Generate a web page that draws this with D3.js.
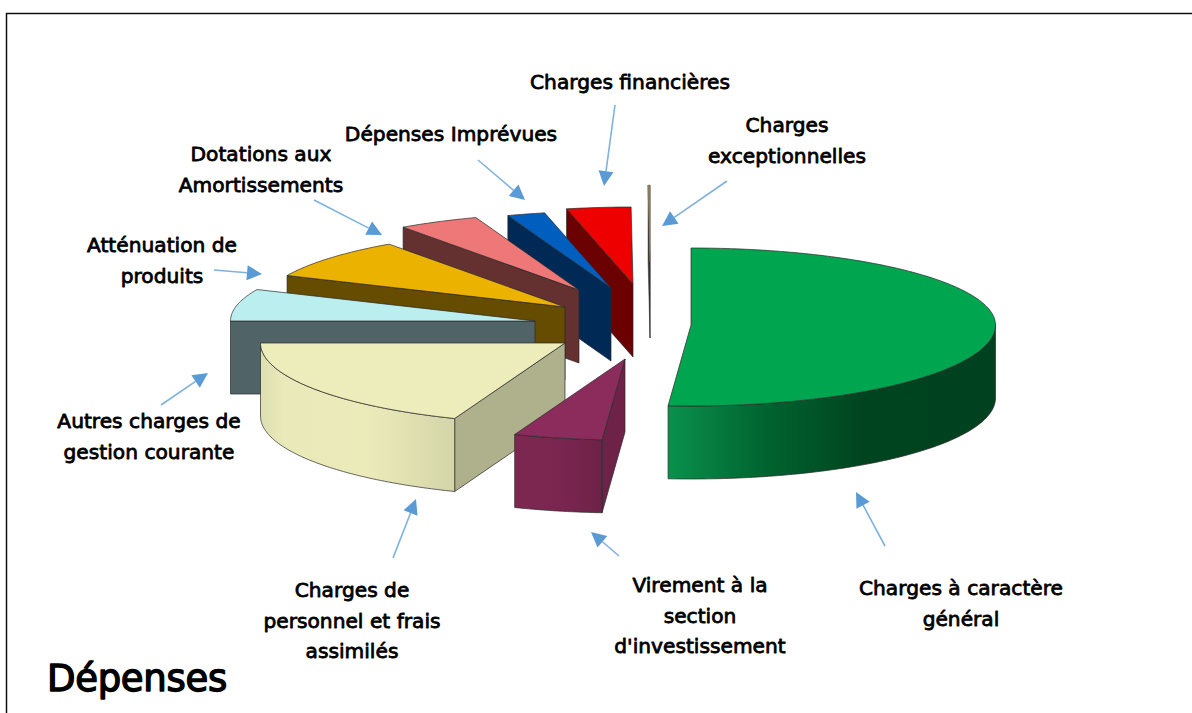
<!DOCTYPE html>
<html><head><meta charset="utf-8">
<script src="https://cdnjs.cloudflare.com/ajax/libs/d3/7.8.5/d3.min.js"></script>
<style>
html,body{margin:0;padding:0;background:#fff;overflow:hidden}
svg{display:block}
text{font-family:"DejaVu Sans",sans-serif;fill:#000;stroke:#000;stroke-linejoin:round}
</style></head><body>
<script>
// --- data ---
const categories = ["Charges à caractère général","Virement à la section d'investissement","Charges de personnel et frais assimilés","Autres charges de gestion courante","Atténuation de produits","Dotations aux Amortissements","Dépenses Imprévues","Charges financières","Charges exceptionnelles"];
const values = [51.2,4.7,19.1,6.7,8.5,4.3,2.0,3.4,0.1];
const topColors = ["#00a54f","#8b2c5c","#edecbb","#bbeeee","#ecb200","#ee7777","#005fbe","#ee0000","#8c7a60"];
const wallColors = ["#00411f","#6e2248","#afb08c","#506366","#654c00","#643030","#002a55","#6a0000","#333333"];
// --- layout ---
const W=1192,H=713;
const centre={x:651,y:325}, rx=304.5, ryBack=77, ryFront=81, depth=73;
const explodeX=[40,-26,-86,-116,-86,-72,-40,-18,-1];
const explodeY=[0,34,18,-4,-18,-35,-37,-41,-63];
const paintOrder=[8,7,6,5,4,3,2,1,0];
const labelLines=[["Charges à caractère","général"],["Virement à la","section","d'investissement"],["Charges de","personnel et frais","assimilés"],["Autres charges de","gestion courante"],["Atténuation de","produits"],["Dotations aux","Amortissements"],["Dépenses Imprévues"],["Charges financières"],["Charges","exceptionnelles"]];
const labelX=[961,700,352,149,162,261,451,630,787];
const labelY=[589,586,591,422,246,155,135,83,126];
const arrowFrom=[[885,546],[619,556],[393,558],[161,405],[214,270],[314,200],[478,160],[615,105],[727,181]];
const arrowTo=[[856,492],[591,532],[416,499],[208,373],[262,274],[382,235],[525,200],[604,186],[662,226]];

const svg=d3.select("body").append("svg").attr("width",W).attr("height",H);
const defs=svg.append("defs");
function grad(id,stops){
  const g=defs.append("linearGradient").attr("id",id).attr("x1",0).attr("x2",1).attr("y1",0).attr("y2",0);
  stops.forEach(s=>g.append("stop").attr("offset",s[0]).attr("stop-color",s[1]));
}
grad("wall0",[[0,"#0a914c"],[.3,"#00632f"],[.6,"#00441f"],[1,"#00411f"]]);
grad("wall1",[[0,"#7d2850"],[.5,"#7a2650"],[1,"#6e2248"]]);
grad("wall2",[[0,"#dedfb2"],[.12,"#e9e9b9"],[.55,"#ebebba"],[1,"#d4d5a8"]]);

svg.append("path").attr("d",`M6.5,${H}V13.5H${W}`).attr("fill","none").attr("stroke","#111").attr("stroke-width",1.5);

const pie=d3.pie().sort(null).value(d=>d);
const arcs=pie(values);
const sx=d3.scaleLinear().domain([-1,1]).range([-rx,rx]);
const sy=v=>v<0?v*ryBack:v*ryFront;
const pt=(a,ox,oy,dz=0)=>[ox+sx(Math.sin(a)),oy+sy(-Math.cos(a))+dz];
const line=d3.line();
const g=svg.append("g");
function face(pts,fill,thin){
  return g.append("path").attr("d",line(pts)+"Z").attr("fill",fill)
    .attr("stroke",thin?fill:"#2a2a2a").attr("stroke-width",thin?.5:.7).attr("stroke-linejoin","round");
}
const sample=(a0,a1)=>{const n=Math.max(2,Math.ceil((a1-a0)*60));return d3.range(n+1).map(i=>a0+(a1-a0)*i/n);};

paintOrder.forEach(i=>{
  const s=arcs[i], ox=centre.x+explodeX[i], oy=centre.y+explodeY[i];
  const a0=s.startAngle,a1=s.endAngle, apex=[ox,oy];
  const thin=i===8;
  const dz=depth+(thin?3:0);
  if(Math.sin(a0)<0){
    const p=pt(a0,ox,oy);
    face([apex,p,[p[0],p[1]+dz],[ox,oy+dz]],wallColors[i],thin);
  }
  if(Math.sin(a1)>0){
    const p=pt(a1,ox,oy);
    face([apex,p,[p[0],p[1]+dz],[ox,oy+dz]],wallColors[i],thin);
  }
  const f0=Math.max(a0,Math.PI/2),f1=Math.min(a1,Math.PI*1.5);
  if(f1>f0){
    const as=sample(f0,f1);
    const up=as.map(a=>pt(a,ox,oy));
    const dn=as.map(a=>pt(a,ox,oy,dz)).reverse();
    face(up.concat(dn),`url(#wall${i})`,false);
  }
  const top=[apex].concat(sample(a0,a1).map(a=>pt(a,ox,oy)));
  face(top,topColors[i],thin);
});

const ag=svg.append("g");
arrowFrom.forEach((f,i)=>{
  const t=arrowTo[i],dx=t[0]-f[0],dy=t[1]-f[1],L=Math.hypot(dx,dy),ux=dx/L,uy=dy/L,hl=15,hw=7.5;
  const b=[t[0]-ux*hl,t[1]-uy*hl];
  ag.append("path").attr("d",line([f,b])).attr("stroke","#7fb1de").attr("stroke-width",1.6).attr("fill","none");
  ag.append("path").attr("d",line([t,[b[0]-uy*hw,b[1]+ux*hw],[b[0]+uy*hw,b[1]-ux*hw]])+"Z").attr("fill","#5b9bd5");
});

labelLines.forEach((ls,i)=>{
  const t=svg.append("text").attr("text-anchor","middle").attr("font-size",20.2).attr("stroke-width",.8);
  ls.forEach((l,j)=>t.append("tspan").attr("x",labelX[i]).attr("y",labelY[i]+6+j*30.5).text(l));
});
svg.append("text").attr("x",47).attr("y",691).attr("font-size",37).attr("stroke-width",1.4).style("letter-spacing","-0.3px").text("Dépenses");
</script>
</body></html>
